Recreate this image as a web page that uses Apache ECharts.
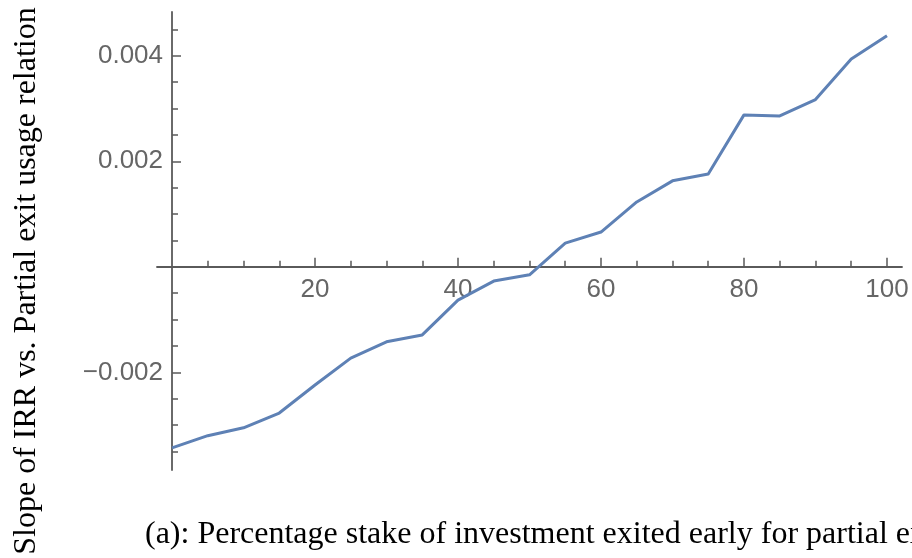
<!DOCTYPE html>
<html>
<head>
<meta charset="utf-8">
<script src="https://cdn.jsdelivr.net/npm/echarts@6/dist/echarts.min.js"></script>
<style>
  html, body { margin: 0; padding: 0; background: #ffffff; }
  #chart { width: 912px; height: 558px; }
</style>
</head>
<body>
<div id="chart"></div>
<script>
// Percentage stake exited early (x) and the fitted slope of IRR vs. partial exit usage (y)
const stakePercent = [0, 5, 10, 15, 20, 25, 30, 35, 40, 45, 50, 55, 60, 65, 70, 75, 80, 85, 90, 95, 100];
const slopeValues = [-0.00343, -0.00320, -0.00305, -0.00277, -0.00224, -0.00173, -0.00142, -0.00129,
                     -0.00063, -0.00027, -0.00015, 0.00045, 0.00066, 0.00123, 0.00163, 0.00176,
                     0.00288, 0.00286, 0.00317, 0.00394, 0.00438];

// Tick positions
const xMajorTicks = [20, 40, 60, 80, 100];
const xMinorTicks = [5, 10, 15, 25, 30, 35, 45, 50, 55, 65, 70, 75, 85, 90, 95];
const yMajorTicks = [-0.002, 0.002, 0.004];
const yMinorTicks = [-0.0035, -0.003, -0.0025, -0.0015, -0.001, -0.0005,
                     0.0005, 0.001, 0.0015, 0.0025, 0.003, 0.0035, 0.0045];

const xLabelText = ['20', '40', '60', '80', '100'];
const yLabelText = ['\u22120.002', '0.002', '0.004'];

const yAxisTitle = 'Slope of IRR vs. Partial exit usage relation';
const xAxisTitle = '(a): Percentage stake of investment exited early for partial exit';

const axisColor = '#5a5a5a';
const labelColor = '#666666';
const xRange = [-2.1, 102.1];
const yRange = [-0.00385, 0.00483];

// Plot frame (pixels) — the axes cross at the data origin inside it
const grid = { left: 157, right: 10, top: 12, bottom: 88 };
const plotW = 912 - grid.left - grid.right;
const plotH = 558 - grid.top - grid.bottom;
// Offsets that move each axis from the frame edge onto the zero of the other axis
const xAxisOffset = -plotH * (0 - yRange[0]) / (yRange[1] - yRange[0]);
const yAxisOffset = -plotW * (0 - xRange[0]) / (xRange[1] - xRange[0]);

const chart = echarts.init(document.getElementById('chart'), null, { renderer: 'canvas' });

function xAxisDef(ticks, len, withLine, withLabels) {
  return {
    type: 'value', position: 'bottom', offset: xAxisOffset, min: xRange[0], max: xRange[1],
    axisLine: { show: withLine, onZero: false, lineStyle: { color: axisColor, width: 1.8 } },
    axisTick: { show: true, inside: true, length: len, customValues: ticks, lineStyle: { color: axisColor, width: 1.5 } },
    axisLabel: withLabels ? {
      show: true, customValues: xMajorTicks, margin: 10,
      color: labelColor, fontFamily: 'Liberation Sans', fontSize: 26,
      formatter: v => xLabelText[xMajorTicks.indexOf(Math.round(v))] || ''
    } : { show: false },
    splitLine: { show: false }
  };
}

function yAxisDef(ticks, len, withLine, withLabels) {
  return {
    type: 'value', position: 'left', offset: yAxisOffset, min: yRange[0], max: yRange[1],
    axisLine: { show: withLine, onZero: false, lineStyle: { color: axisColor, width: 1.8 } },
    axisTick: { show: true, inside: true, length: len, customValues: ticks, lineStyle: { color: axisColor, width: 1.5 } },
    axisLabel: withLabels ? {
      show: true, customValues: yMajorTicks, margin: 9,
      color: labelColor, fontFamily: 'Liberation Sans', fontSize: 26,
      formatter: v => {
        const i = yMajorTicks.findIndex(t => Math.abs(t - v) < 1e-9);
        return i >= 0 ? yLabelText[i] : '';
      }
    } : { show: false },
    splitLine: { show: false }
  };
}

chart.setOption({
  animation: false,
  backgroundColor: '#ffffff',
  grid: Object.assign({ outerBoundsMode: 'none' }, grid),
  xAxis: [
    xAxisDef(xMajorTicks, 9, true, true),
    xAxisDef(xMinorTicks, 6, false, false)
  ],
  yAxis: [
    yAxisDef(yMajorTicks, 9, true, true),
    yAxisDef(yMinorTicks, 6, false, false)
  ],
  series: [{
    type: 'line',
    xAxisIndex: 0, yAxisIndex: 0,
    data: stakePercent.map((x, i) => [x, slopeValues[i]]),
    showSymbol: false, symbol: 'none', smooth: false,
    lineStyle: { color: '#5E81B5', width: 3, join: 'round' },
    z: 1
  }],
  graphic: [
    {
      type: 'text', x: 27, y: 281, rotation: Math.PI / 2,
      style: {
        text: yAxisTitle, fill: '#000000',
        font: '32px "Liberation Serif"', align: 'center', verticalAlign: 'middle'
      }
    },
    {
      type: 'text', x: 145, y: 535,
      style: {
        text: xAxisTitle, fill: '#000000',
        font: '32px "Liberation Serif"', align: 'left', verticalAlign: 'middle'
      }
    }
  ]
});
</script>
</body>
</html>
